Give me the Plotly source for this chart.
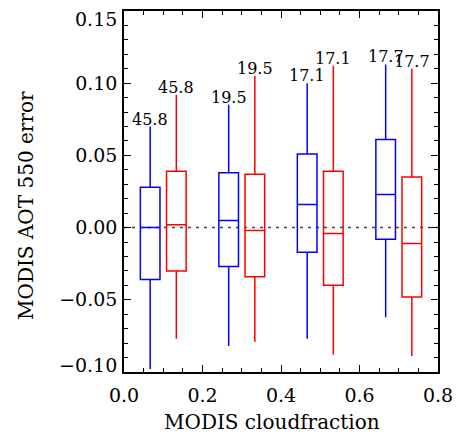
import plotly.graph_objects as go

# Cloud-fraction bins (centres) and the two box series per bin
bin_centers = [0.1, 0.3, 0.5, 0.7]

blue_upper = [0.070, 0.085, 0.100, 0.113]
blue_q3 = [0.028, 0.038, 0.051, 0.061]
blue_median = [0.000, 0.005, 0.016, 0.023]
blue_q1 = [-0.036, -0.027, -0.017, -0.008]
blue_lower = [-0.098, -0.082, -0.077, -0.062]

red_upper = [0.092, 0.105, 0.112, 0.110]
red_q3 = [0.039, 0.037, 0.039, 0.035]
red_median = [0.002, -0.002, -0.004, -0.011]
red_q1 = [-0.030, -0.034, -0.040, -0.048]
red_lower = [-0.077, -0.079, -0.088, -0.089]

# Percentage of samples in each bin
bin_labels = ["45.8", "19.5", "17.1", "17.7"]

# Axis ticks
x_ticks = [0.0, 0.2, 0.4, 0.6, 0.8]
y_inner_ticks = [-0.05, 0.0, 0.05, 0.10]
y_end_ticks = [-0.10, 0.15]

FONT = "DejaVu Serif"
offset = 0.2 / 6
box_w = 0.05
Y_RANGE = [-0.10, 0.15]

blue_x = [c - offset for c in bin_centers]
red_x = [c + offset for c in bin_centers]

fig = go.Figure()

for xs, lo, q1, med, q3, hi, col in [
    (blue_x, blue_lower, blue_q1, blue_median, blue_q3, blue_upper, "#0000ff"),
    (red_x, red_lower, red_q1, red_median, red_q3, red_upper, "#ff0000"),
]:
    fig.add_trace(go.Box(
        x=xs, lowerfence=lo, q1=q1, median=med, q3=q3, upperfence=hi,
        width=box_w, whiskerwidth=0, boxpoints=False,
        line=dict(color=col, width=1.5), fillcolor="rgba(0,0,0,0)",
        hoverinfo="skip", showlegend=False,
    ))

# Zero reference line
fig.add_shape(type="line", xref="paper", x0=0, x1=1, yref="y", y0=0, y1=0,
              line=dict(color="#444444", width=1.5, dash="3px,5px"), layer="below")

annotations = []
for xs, hi in [(blue_x, blue_upper), (red_x, red_upper)]:
    for x, y, t in zip(xs, hi, bin_labels):
        annotations.append(dict(x=x, y=y, text=t, showarrow=False,
                                xanchor="center", yanchor="bottom", yshift=-4,
                                font=dict(family=FONT, size=16, color="black")))

# End labels of the y axis sit slightly inside the frame
for v in y_end_ticks:
    annotations.append(dict(
        xref="paper", x=0, y=v, text=f"{v:.2f}".replace("-", "\u2212"),
        showarrow=False, xanchor="right", yanchor="middle",
        xshift=-5, yshift=(-8 if v == max(y_end_ticks) else 7),
        font=dict(family=FONT, size=19, color="black")))

# Axis titles
annotations.append(dict(xref="paper", yref="paper", x=0.47, y=0, yshift=-50,
                        text="MODIS cloudfraction", showarrow=False,
                        xanchor="center", yanchor="middle",
                        font=dict(family=FONT, size=20, color="black")))
annotations.append(dict(xref="paper", yref="paper", x=0, xshift=-98, y=0.46,
                        text="MODIS AOT 550 error", showarrow=False, textangle=-90,
                        xanchor="center", yanchor="middle",
                        font=dict(family=FONT, size=20, color="black")))

axis_common = dict(
    showline=True, linecolor="black", linewidth=1.5, mirror="allticks",
    ticks="inside", tickcolor="black", tickwidth=1, showgrid=False,
    zeroline=False, automargin=False, ticklen=7,
    tickfont=dict(family=FONT, size=19, color="black"),
)

fig.update_layout(
    width=457, height=436,
    margin=dict(l=124, r=19, t=11, b=64),
    paper_bgcolor="white", plot_bgcolor="white",
    boxmode="overlay",
    annotations=annotations,
    xaxis=dict(
        range=[0, 0.8], tickmode="array", tickvals=x_ticks,
        ticktext=[f"{v:.1f}" for v in x_ticks],
        minor=dict(ticks="inside", dtick=0.05, ticklen=4, tickcolor="black", tickwidth=1),
        ticklabelstandoff=5,
        **axis_common,
    ),
    yaxis=dict(
        range=Y_RANGE, tickmode="array", tickvals=y_inner_ticks,
        ticktext=[f"{v:.2f}".replace("-", "\u2212") for v in y_inner_ticks],
        minor=dict(ticks="inside", tickmode="array",
                   tickvals=[round(-0.10 + 0.01 * i, 2) for i in range(26)],
                   ticklen=4, tickcolor="black", tickwidth=1),
        ticklabelstandoff=1,
        **axis_common,
    ),
)

fig.write_html("out.html")
